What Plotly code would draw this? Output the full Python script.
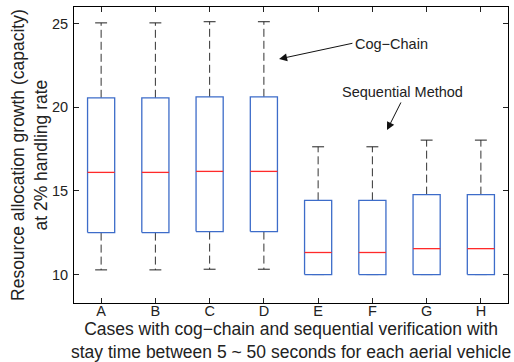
import plotly.graph_objects as go

categories = ["A", "B", "C", "D", "E", "F", "G", "H"]
upper_whisker = [25.05, 25.05, 25.12, 25.12, 17.64, 17.64, 18.04, 18.04]
q3 = [20.57, 20.57, 20.63, 20.63, 14.44, 14.44, 14.78, 14.78]
median = [16.11, 16.11, 16.17, 16.17, 11.32, 11.32, 11.55, 11.55]
q1 = [12.51, 12.51, 12.57, 12.57, 10.0, 10.0, 10.0, 10.0]
lower_whisker = [10.28, 10.28, 10.32, 10.32, 10.0, 10.0, 10.0, 10.0]

BOX_HALF = 0.25
CAP_HALF = 0.11
FONT = "Liberation Sans, Arial, sans-serif"
TXT = "#222222"

pos = list(range(1, len(categories) + 1))

bx, by, mx, my, wx, wy, cx, cy = [], [], [], [], [], [], [], []
for i, p in enumerate(pos):
    bx += [p - BOX_HALF, p + BOX_HALF, p + BOX_HALF, p - BOX_HALF, p - BOX_HALF, None]
    by += [q1[i], q1[i], q3[i], q3[i], q1[i], None]
    mx += [p - BOX_HALF, p + BOX_HALF, None]
    my += [median[i], median[i], None]
    wx += [p, p, None]
    wy += [q3[i], upper_whisker[i], None]
    if lower_whisker[i] < q1[i]:
        wx += [p, p, None]
        wy += [q1[i], lower_whisker[i], None]
    cx += [p - CAP_HALF, p + CAP_HALF, None, p - CAP_HALF, p + CAP_HALF, None]
    cy += [upper_whisker[i], upper_whisker[i], None, lower_whisker[i], lower_whisker[i], None]

fig = go.Figure()
fig.add_trace(go.Scatter(x=wx, y=wy, mode="lines", line=dict(color="#333333", width=1, dash="8px,4px"),
                         hoverinfo="skip", showlegend=False))
fig.add_trace(go.Scatter(x=cx, y=cy, mode="lines", line=dict(color="#222222", width=1),
                         hoverinfo="skip", showlegend=False))
fig.add_trace(go.Scatter(x=bx, y=by, mode="lines", line=dict(color="#3d6cc9", width=1.3),
                         hoverinfo="skip", showlegend=False))
fig.add_trace(go.Scatter(x=mx, y=my, mode="lines", line=dict(color="#ff2a2a", width=1.3),
                         hoverinfo="skip", showlegend=False))

axis_common = dict(showline=True, linecolor="#000000", linewidth=1, mirror="ticks",
                   ticks="inside", ticklen=5, tickcolor="#222222", showgrid=False, zeroline=False,
                   tickfont=dict(family=FONT, size=14.5, color=TXT))

fig.update_xaxes(range=[0.5, 8.5], tickvals=pos, ticktext=categories, ticklabelstandoff=-5,
                 **axis_common)
fig.update_yaxes(range=[8.3, 26.0], tickvals=[10, 15, 20, 25], ticklabelstandoff=2, **axis_common)

annotations = [
    dict(x=4.28, y=22.89, ax=5.66, ay=23.85, xref="x", yref="y", axref="x", ayref="y",
         text="", showarrow=True, arrowhead=2, arrowsize=1.6, arrowwidth=1, arrowcolor="#111111"),
    dict(x=6.36, y=23.79, xref="x", yref="y", text="Cog\u2212Chain", showarrow=False,
         font=dict(family=FONT, size=14.5, color=TXT)),
    dict(x=6.27, y=18.64, ax=6.54, ay=20.38, xref="x", yref="y", axref="x", ayref="y",
         text="", showarrow=True, arrowhead=2, arrowsize=1.6, arrowwidth=1, arrowcolor="#111111"),
    dict(x=6.546, y=20.92, xref="x", yref="y", text="Sequential Method", showarrow=False,
         font=dict(family=FONT, size=14.5, color=TXT)),
    dict(x=-0.1037, y=0.5, xref="paper", yref="paper", textangle=-90, showarrow=False,
         text="Resource allocation growth (capacity)<br>at 2% handling rate",
         font=dict(family=FONT, size=17.5, color=TXT), xanchor="center", yanchor="middle"),
    dict(x=0.5, y=-0.127, xref="paper", yref="paper", showarrow=False, yanchor="middle",
         xanchor="center",
         text="Cases with cog\u2212chain and sequential verification with<br>stay time between 5 ~ 50 seconds for each aerial vehicle",
         font=dict(family=FONT, size=17.5, color=TXT)),
]

fig.update_layout(width=514, height=362, margin=dict(l=74, r=6, t=7, b=59),
                  plot_bgcolor="white", paper_bgcolor="white", annotations=annotations,
                  showlegend=False)

fig.write_html("out.html", config={"displayModeBar": False},
               post_script="document.body.style.margin='0';document.body.style.overflow='hidden';")
